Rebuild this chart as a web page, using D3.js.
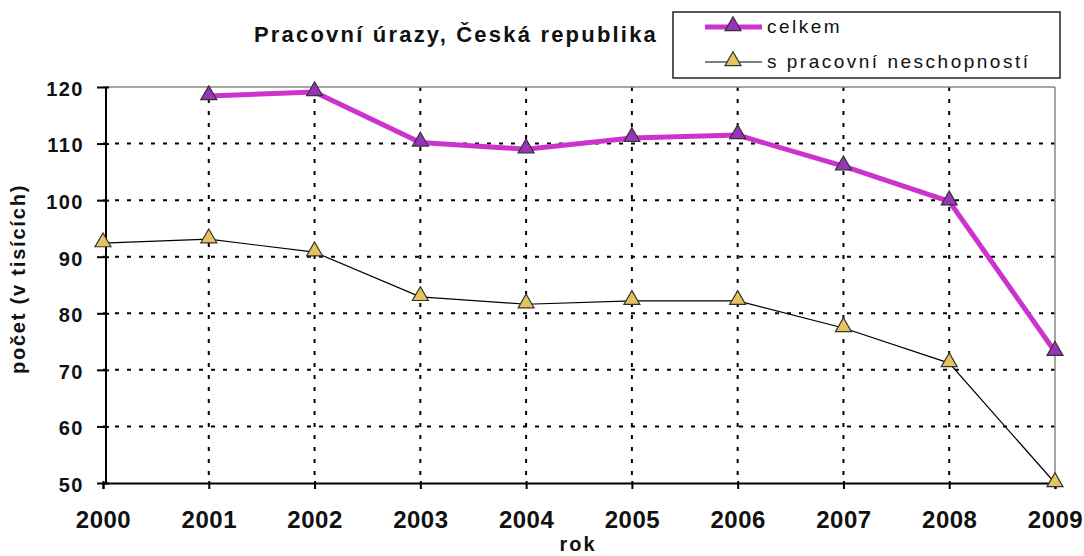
<!DOCTYPE html>
<html><head><meta charset="utf-8">
<script src="https://cdn.jsdelivr.net/npm/d3@7"></script>
<style>body{margin:0;background:#fff;} svg{display:block;font-family:"Liberation Sans",Arial,sans-serif;}</style>
</head><body>
<script>
const years = [2000,2001,2002,2003,2004,2005,2006,2007,2008,2009];
const celkem = [null,118.4,119.1,110.2,109.0,111.0,111.5,106.0,99.8,73.2];
const neschopnost = [92.4,93.1,90.8,82.9,81.6,82.2,82.2,77.4,71.2,50.0];
const yTicks = [50,60,70,80,90,100,110,120];
const seriesNames = ["celkem","s pracovní neschopností"];

const W=1084,H=556;
const svg=d3.select("body").append("svg").attr("width",W).attr("height",H);
const x=d3.scaleLinear().domain([2000,2009]).range([103,1055]);
const y=d3.scaleLinear().domain([50,120]).range([483,87]);

// grid
const g=svg.append("g");
g.selectAll(".hg").data(yTicks.filter(v=>v>50&&v<120)).join("line")
 .attr("x1",x(2000)).attr("x2",x(2009)).attr("y1",d=>y(d)).attr("y2",d=>y(d))
 .attr("stroke","#000").attr("stroke-width",2).attr("stroke-dasharray","4,8");
g.selectAll(".vg").data(years.filter(v=>v>2000&&v<2009)).join("line")
 .attr("x1",d=>x(d)).attr("x2",d=>x(d)).attr("y1",y(120)).attr("y2",y(50))
 .attr("stroke","#000").attr("stroke-width",2).attr("stroke-dasharray","4,8");
// top & right border
svg.append("line").attr("x1",x(2000)).attr("x2",x(2009)).attr("y1",y(120)).attr("y2",y(120)).attr("stroke","#888").attr("stroke-width",1.5);
svg.append("line").attr("x1",x(2009)).attr("x2",x(2009)).attr("y1",y(120)).attr("y2",y(50)).attr("stroke","#888").attr("stroke-width",1.5);

// axes
const yAxis=d3.axisLeft(y).tickValues(yTicks).tickSize(6).tickFormat(d3.format("d"));
const ya=svg.append("g").attr("transform",`translate(${x(2000)+3},0)`).call(yAxis);
const xAxis=d3.axisBottom(x).tickValues(years).tickSize(6).tickFormat(d3.format("d"));
const xa=svg.append("g").attr("transform",`translate(0,${y(50)})`).call(xAxis);
[ya,xa].forEach(a=>{a.select(".domain").attr("stroke","#000").attr("stroke-width",2);
 a.selectAll(".tick line").attr("stroke","#000").attr("stroke-width",2);
 a.selectAll("text").attr("font-weight","bold").attr("fill","#111");});
ya.select(".domain").attr("d",`M0,${y(120)}V${y(50)}`);
ya.selectAll(".tick line").attr("x1",3).attr("x2",-9);
ya.selectAll("text").attr("x",-22).attr("font-size",20).attr("letter-spacing",1.5).attr("dy","0.42em");
xa.selectAll(".tick line").attr("y1",-2).attr("y2",6);
xa.selectAll("text").attr("y",28).attr("font-size",24).attr("letter-spacing",0.5).attr("dy","0.71em");

// lines
const line=d3.line().defined(d=>d[1]!=null).x(d=>x(d[0])).y(d=>y(d[1]));
const d1=years.map((yr,i)=>[yr,celkem[i]]);
const d2=years.map((yr,i)=>[yr,neschopnost[i]]);
svg.append("path").datum(d2).attr("d",line).attr("fill","none").attr("stroke","#000").attr("stroke-width",1.2);
svg.append("path").datum(d1).attr("d",line).attr("fill","none").attr("stroke","#cc33cc").attr("stroke-width",5);

const tri=d3.symbol().type(d3.symbolTriangle).size(110);
svg.selectAll(".m2").data(d2).join("path").attr("d",tri).attr("transform",d=>`translate(${x(d[0])},${y(d[1])-1})`)
 .attr("fill","#e6c35c").attr("stroke","#333").attr("stroke-width",1.2);
svg.selectAll(".m1").data(d1.filter(d=>d[1]!=null)).join("path").attr("d",tri).attr("transform",d=>`translate(${x(d[0])},${y(d[1])-1})`)
 .attr("fill","#9933bb").attr("stroke","#333").attr("stroke-width",1.2);

// title
svg.append("text").attr("x",456).attr("y",42).attr("text-anchor","middle").attr("font-size",22).attr("letter-spacing",2.2).attr("font-weight","bold").attr("fill","#111").text("Pracovní úrazy, Česká republika");
// axis titles
svg.append("text").attr("transform","translate(25,279) rotate(-90)").attr("text-anchor","middle").attr("font-size",20).attr("letter-spacing",1.8).attr("font-weight","bold").attr("fill","#111").text("počet (v tisících)");
svg.append("text").attr("x",578).attr("y",551).attr("text-anchor","middle").attr("font-size",20).attr("letter-spacing",2).attr("font-weight","bold").attr("fill","#111").text("rok");

// legend
const lg=svg.append("g");
lg.append("rect").attr("x",673).attr("y",12).attr("width",387).attr("height",66).attr("fill","#fff").attr("stroke","#222").attr("stroke-width",1.5);
const rows=[{n:seriesNames[0],c:"#cc33cc",w:5,f:"#9933bb",yy:27},{n:seriesNames[1],c:"#000",w:1.2,f:"#e6c35c",yy:62}];
rows.forEach(r=>{
 lg.append("line").attr("x1",705).attr("x2",762).attr("y1",r.yy).attr("y2",r.yy).attr("stroke",r.c).attr("stroke-width",r.w);
 lg.append("path").attr("d",tri).attr("transform",`translate(733,${r.yy-1})`).attr("fill",r.f).attr("stroke","#333").attr("stroke-width",1.2);
 lg.append("text").attr("x",767).attr("y",r.yy+6).attr("font-size",19).attr("letter-spacing",2.5).attr("fill","#111").text(r.n);
});
</script>
</body></html>
